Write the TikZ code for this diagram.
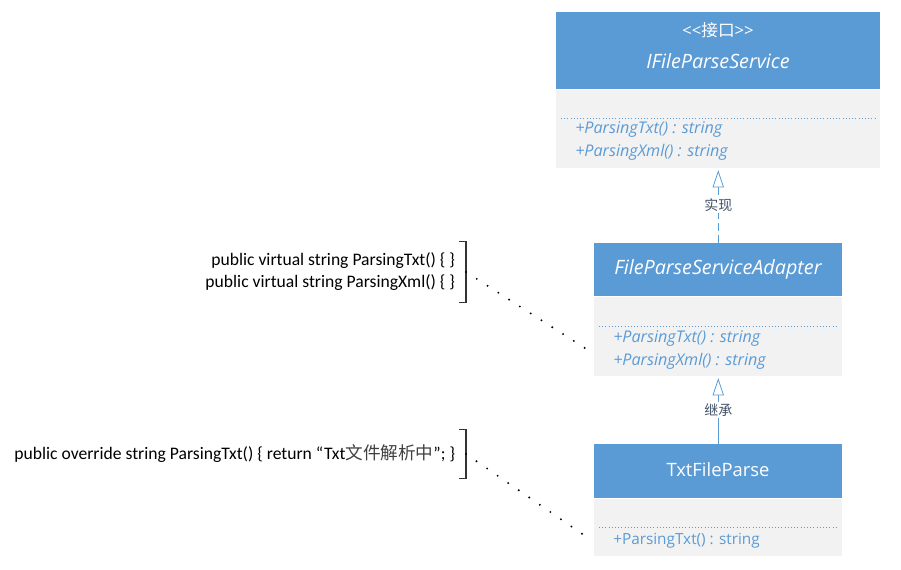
\documentclass[tikz,border=0pt]{standalone}
\usepackage{fontspec}
\setmainfont{Open Sans}
\newfontfamily\cjk{Noto Sans CJK SC}
\newfontfamily\codefont{Carlito}
\usetikzlibrary{arrows.meta,positioning}
\definecolor{umlblue}{HTML}{5B9BD5}
\definecolor{umlgray}{HTML}{F2F2F2}
\definecolor{lblblue}{HTML}{44546A}
\tikzset{
  head/.style={fill=umlblue, anchor=north west, inner sep=0pt},
  body/.style={fill=umlgray, inner sep=0pt},
  title/.style={text=white, font=\itshape\fontsize{14.8}{17}\selectfont},
  method/.style={text=umlblue, anchor=west, inner sep=0pt, font=\itshape\fontsize{12.1}{14}\selectfont},
  sep/.style={umlblue, dotted, line width=0.4pt},
  lbl/.style={fill=white, text=lblblue, inner sep=1pt, font=\cjk\fontsize{10.5}{12}\selectfont},
  realize/.style={umlblue, dashed, dash pattern=on 6pt off 3pt, line width=0.6pt,
    -{Triangle[open, length=13pt, width=8.5pt]}, shorten >=1.5pt},
  inherit/.style={umlblue, line width=0.6pt,
    -{Triangle[open, length=13pt, width=8.5pt]}, shorten >=1.5pt},
  note/.style={anchor=east, align=right, inner xsep=8pt, inner ysep=0pt,
    font=\codefont\fontsize{13.2}{16.5}\selectfont},
  notelink/.style={line width=1.6pt, line cap=round, dash pattern=on 0pt off 9.6pt}
}
\begin{document}
\begin{tikzpicture}[x=0.75pt, y=-0.75pt]
\useasboundingbox (0,0) rectangle (901,570);

% interface
\node[head, minimum width=243pt, minimum height=57.75pt] (ifhead) at (556,12) {};
\node[body, minimum width=243pt, minimum height=58.5pt, below=0pt of ifhead] (ifbody) {};
\node[title, font=\fontsize{12.5}{15}\selectfont] (ifstereo) at (718,30) {<{}<{\cjk 接口}>{}>};
\node[title] (ifname) at (718,61) {IFileParseService};
\draw[sep] (561,118) -- (875,118);
\node[method] (ifm1) at (575,130) {+ParsingTxt() : string};
\node[method] (ifm2) at (575,152) {+ParsingXml() : string};

% adapter
\node[head, minimum width=186pt, minimum height=39.75pt] (adhead) at (594,243) {};
\node[body, minimum width=186pt, minimum height=59.25pt, below=0pt of adhead] (adbody) {};
\node[title] (adname) at (718,269) {FileParseServiceAdapter};
\draw[sep] (599,326) -- (837,326);
\node[method] (adm1) at (613,339) {+ParsingTxt() : string};
\node[method] (adm2) at (613,361) {+ParsingXml() : string};

% concrete class
\node[head, minimum width=186pt, minimum height=40.5pt] (txhead) at (594,444) {};
\node[body, minimum width=186pt, minimum height=42.75pt, below=0pt of txhead] (txbody) {};
\node[title, font=\fontsize{13.8}{16}\selectfont] (txname) at (718,470) {TxtFileParse};
\draw[sep] (599,527) -- (837,527);
\node[method, font=\fontsize{11.5}{14}\selectfont] (txm1) at (613,541) {+ParsingTxt() : string};

% relations
\draw[realize] (adhead.north) -- (ifbody.south) node[lbl, pos=0.5] {实现};
\draw[inherit] (txhead.north) -- (adbody.south) node[lbl, pos=0.5] {继承};

% notes
\node[note, minimum height=45pt] (note1) at (466,272)
  {public virtual string ParsingTxt() \{ \}\\public virtual string ParsingXml() \{ \}};
\draw[black!80, line width=0.8pt] ([xshift=-5pt]note1.north east) -- (note1.north east)
  -- (note1.south east) -- ([xshift=-5pt]note1.south east);
\node[note, minimum height=36pt] (note2) at (466,454)
  {public override string ParsingTxt() \{ return “Txt{\cjk\color{black!75}文件解析中}”; \}};
\draw[black!80, line width=0.8pt] ([xshift=-5pt]note2.north east) -- (note2.north east)
  -- (note2.south east) -- ([xshift=-5pt]note2.south east);
\coordinate (adlink) at (591,352);
\coordinate (txlink) at (591,540);
\draw[notelink] (note1.east) -- (adlink);
\draw[notelink] (note2.east) -- (txlink);
\end{tikzpicture}
\end{document}
